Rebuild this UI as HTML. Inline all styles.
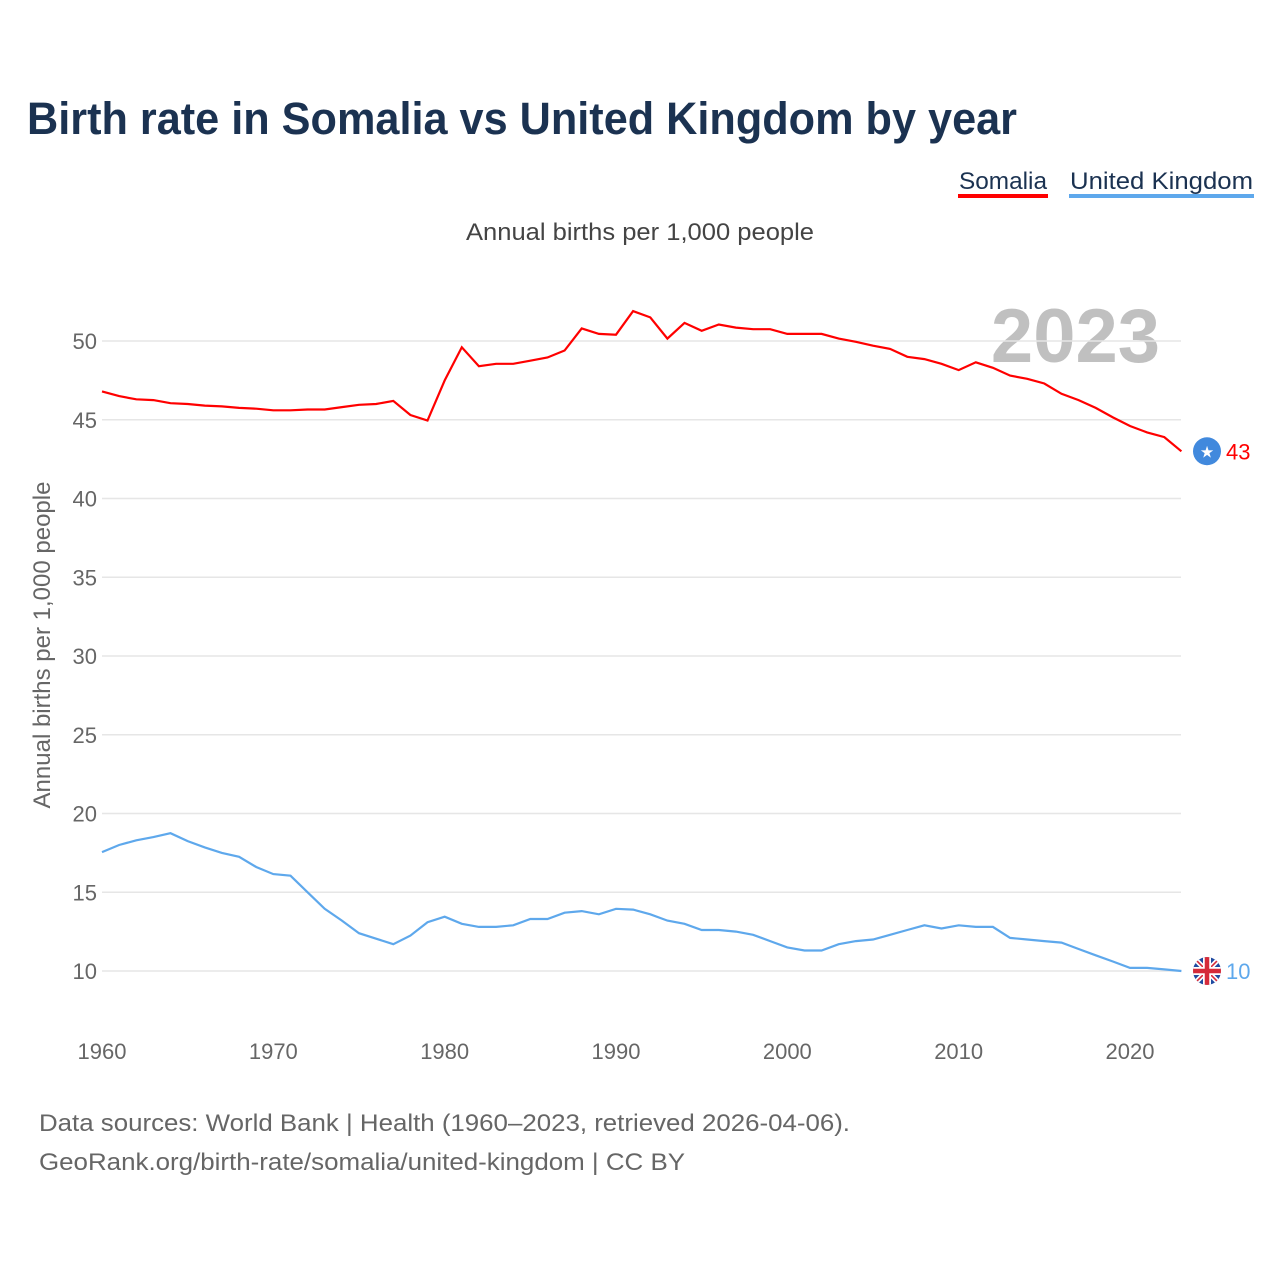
<!DOCTYPE html>
<html><head><meta charset="utf-8">
<style>
body{margin:0;background:#fff;font-family:"Liberation Sans",sans-serif;}
</style></head>
<body>
<svg id="chart" width="1280" height="1280" xmlns="http://www.w3.org/2000/svg" font-family="Liberation Sans, sans-serif">
<text x="27" y="134" font-size="45" font-weight="bold" fill="#1b3251" textLength="990" lengthAdjust="spacingAndGlyphs">Birth rate in Somalia vs United Kingdom by year</text>
<g>
<text x="959" y="189" font-size="24" fill="#1b3251" textLength="88" lengthAdjust="spacingAndGlyphs">Somalia</text>
<rect x="958" y="194" width="90" height="4" fill="#ff0000"/></g>
<g>
<text x="1070" y="189" font-size="24" fill="#1b3251" textLength="183" lengthAdjust="spacingAndGlyphs">United Kingdom</text>
<rect x="1069" y="194" width="185" height="4" fill="#5ea8ec"/></g>
<text x="466" y="240" font-size="24" fill="#444" textLength="348" lengthAdjust="spacingAndGlyphs">Annual births per 1,000 people</text>
<text transform="translate(50,645) rotate(-90)" font-size="24" fill="#666" text-anchor="middle">Annual births per 1,000 people</text>
<text x="1160" y="362" font-size="76" font-weight="bold" fill="#c0c0c0" text-anchor="end">2023</text>
<g id="grid"></g><g id="series"></g>
<text x="39" y="1131" font-size="24" fill="#666" textLength="811" lengthAdjust="spacingAndGlyphs">Data sources: World Bank | Health (1960–2023, retrieved 2026-04-06).</text>
<text x="39" y="1170" font-size="24" fill="#666" textLength="646" lengthAdjust="spacingAndGlyphs">GeoRank.org/birth-rate/somalia/united-kingdom | CC BY</text>
</svg>
<script>
const years=[];for(let y=1960;y<=2023;y++)years.push(y);
const yTicks=[10,15,20,25,30,35,40,45,50];
const xTicks=[1960,1970,1980,1990,2000,2010,2020];
const somalia=[46.8,46.5,46.3,46.25,46.05,46.0,45.9,45.85,45.75,45.7,45.6,45.6,45.65,45.65,45.8,45.95,46.0,46.2,45.3,44.95,47.5,49.6,48.4,48.55,48.55,48.75,48.95,49.4,50.8,50.45,50.4,51.9,51.5,50.15,51.15,50.65,51.05,50.85,50.75,50.75,50.45,50.45,50.45,50.15,49.95,49.7,49.5,49.0,48.85,48.55,48.15,48.65,48.3,47.8,47.6,47.3,46.65,46.25,45.75,45.15,44.6,44.2,43.9,43.0];
const uk=[17.55,18.0,18.3,18.5,18.75,18.25,17.85,17.5,17.25,16.6,16.15,16.05,15.0,13.95,13.2,12.4,12.05,11.7,12.25,13.1,13.45,13.0,12.8,12.8,12.9,13.3,13.3,13.7,13.8,13.6,13.95,13.9,13.6,13.2,13.0,12.6,12.6,12.5,12.3,11.9,11.5,11.3,11.3,11.7,11.9,12.0,12.3,12.6,12.9,12.7,12.9,12.8,12.8,12.1,12.0,11.9,11.8,11.4,11.0,10.6,10.2,10.2,10.1,10.0];
const NS='http://www.w3.org/2000/svg';
const X=v=>102+(v-1960)*(1130-102)/60;
const Y=v=>971-(v-10)*(971-341)/40;
const grid=document.getElementById('grid'),ser=document.getElementById('series');
function mk(tag,attrs,parent){const e=document.createElementNS(NS,tag);for(const k in attrs)e.setAttribute(k,attrs[k]);parent.appendChild(e);return e;}
yTicks.forEach(t=>{
 const l=mk('line',{x1:102,x2:1181,y1:Y(t),y2:Y(t),stroke:'#e6e6e6','stroke-width':1.5},grid);
 
 
 const tx=mk('text',{x:97,y:Y(t)+8,'font-size':22,fill:'#666','text-anchor':'end'},grid);tx.textContent=t;
 
 
});
xTicks.forEach(t=>{
 const tx=mk('text',{x:X(t),y:1059,'font-size':22,fill:'#666','text-anchor':'middle'},grid);tx.textContent=t;
 
 
});
function line(data,color,name){
 const d=data.map((v,i)=>(i?'L':'M')+X(years[i]).toFixed(1)+' '+Y(v).toFixed(1)).join(' ');
 const p=mk('path',{d:d,fill:'none',stroke:color,'stroke-width':2.2},ser);
 
 
}
line(somalia,'#ff0000','somalia-line');
line(uk,'#5ea8ec','united-kingdom-line');
const sl=somalia[somalia.length-1],ul=uk[uk.length-1];
const g1=mk('g',{},ser);


mk('circle',{cx:1207,cy:Y(sl),r:14,fill:'#4189dd'},g1);
mk('text',{x:1207,y:Y(sl)+6,'font-size':16,fill:'#fff','text-anchor':'middle'},g1).textContent='★';
const t1=mk('text',{x:1226,y:Y(sl)+8,'font-size':22,fill:'#ff0000'},g1);t1.textContent=Math.round(sl);
const g2=mk('g',{},ser);


const cy=Y(ul);
const cp=mk('clipPath',{id:'ukc'},g2);
mk('circle',{cx:1207,cy:cy,r:14},cp);
const fg=mk('g',{'clip-path':'url(#ukc)'},g2);
mk('rect',{x:1193,y:cy-14,width:28,height:28,fill:'#1f4aa0'},fg);
mk('path',{d:`M1193 ${cy-14}L1221 ${cy+14}M1221 ${cy-14}L1193 ${cy+14}`,stroke:'#fff','stroke-width':5},fg);
mk('path',{d:`M1193 ${cy-14}L1221 ${cy+14}M1221 ${cy-14}L1193 ${cy+14}`,stroke:'#d52b3a','stroke-width':1.6},fg);
mk('path',{d:`M1207 ${cy-14}V${cy+14}M1193 ${cy}H1221`,stroke:'#fff','stroke-width':8},fg);
mk('path',{d:`M1207 ${cy-14}V${cy+14}M1193 ${cy}H1221`,stroke:'#d52b3a','stroke-width':4.5},fg);
const t2=mk('text',{x:1226,y:cy+8,'font-size':22,fill:'#5ea8ec'},g2);t2.textContent=Math.round(ul);
</script>
</body></html>
